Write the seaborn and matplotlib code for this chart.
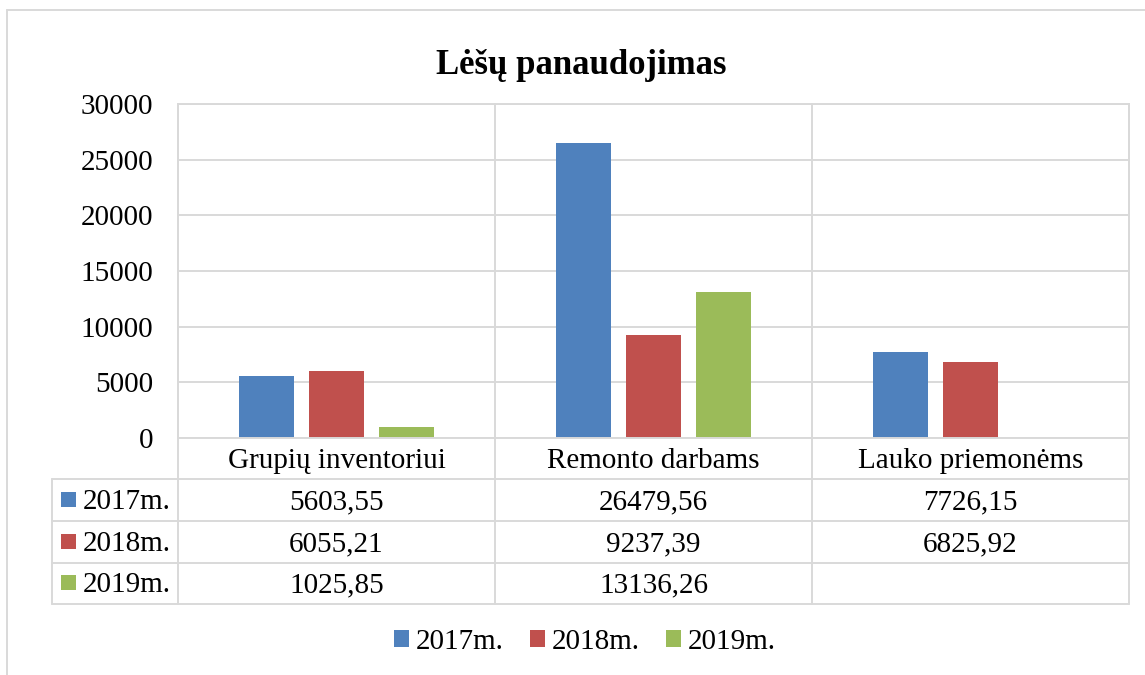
# Lėšų panaudojimas - grouped bars with an Excel style data table under the axes.

import seaborn as sns
import pandas as pd
import matplotlib.pyplot as plt
from matplotlib.lines import Line2D
from matplotlib.patches import Patch, Rectangle
from matplotlib.transforms import blended_transform_factory
import numpy as np

sns.set_theme(style="white")
plt.rcParams['font.family'] = ['Liberation Serif', 'DejaVu Serif']
plt.rcParams['text.color'] = 'black'
plt.rcParams['ytick.color'] = 'black'

# Data.
categories = ["Grupių inventoriui", "Remonto darbams", "Lauko priemonėms"]
years = ["2017m.", "2018m.", "2019m."]
values_2017 = [5603.55, 26479.56, 7726.15]
values_2018 = [6055.21, 9237.39, 6825.92]
values_2019 = [1025.85, 13136.26, np.nan]
y_ticks = [0, 5000, 10000, 15000, 20000, 25000, 30000]
title = "Lėšų panaudojimas"

colors = {"2017m.": "#4F81BD", "2018m.": "#C0504D", "2019m.": "#9BBB59"}
grid_color = "#d9d9d9"
fs = 21

W, H = 1145, 675
fig = plt.figure(figsize=(W / 100, H / 100), dpi=100)


def fy(px):
    # pixel row (from top) -> figure fraction
    return 1 - px / H


ax_left, ax_right, ax_top, ax_bottom = 178, 1129, 104, 438
ax = fig.add_axes([ax_left / W, fy(ax_bottom), (ax_right - ax_left) / W, (ax_bottom - ax_top) / H])

df = pd.DataFrame({
    "category": categories * 3,
    "year": [years[0]] * 3 + [years[1]] * 3 + [years[2]] * 3,
    "value": values_2017 + values_2018 + values_2019,
})

sns.barplot(data=df, x="category", y="value", hue="year", order=categories, hue_order=years,
            palette=colors, saturation=1, width=0.662, gap=0.21, ax=ax, legend=False, linewidth=0)

ax.set_xlim(-0.5, len(categories) - 0.5)
ax.set_ylim(0, 30000)
ax.set_yticks(y_ticks)
ax.set_yticklabels([str(t) for t in y_ticks], fontsize=fs, color="black")
ax.set_xticks([])
ax.set_xlabel("")
ax.set_ylabel("")
ax.tick_params(axis="y", length=0, pad=18)
ax.grid(axis="y", color=grid_color, linewidth=1.4)
ax.set_axisbelow(True)
for s in ax.spines.values():
    s.set_color(grid_color)
    s.set_linewidth(1.4)

# Data table below the axes: x in data units, y in figure fraction.
trans = blended_transform_factory(ax.transData, fig.transFigure)
cat_w = (ax_right - ax_left) / len(categories)
table_left = -0.5 - (ax_left - 52) / cat_w
row_lines = [479, 521, 563, 604]
line_kw = dict(color=grid_color, linewidth=1.4, transform=trans, clip_on=False)

for xb in np.arange(-0.5, len(categories), 1.0):
    fig.add_artist(Line2D([xb, xb], [fy(ax_top), fy(row_lines[-1])], **line_kw))
fig.add_artist(Line2D([table_left, table_left], [fy(row_lines[0]), fy(row_lines[-1])], **line_kw))
for r in row_lines:
    fig.add_artist(Line2D([table_left, len(categories) - 0.5], [fy(r), fy(r)], **line_kw))

for i, c in enumerate(categories):
    fig.text(i, fy(468), c, transform=trans, ha="center", va="baseline", fontsize=fs)

series = [values_2017, values_2018, values_2019]
baselines = [509, 551, 592]
for yr, vals, base in zip(years, series, baselines):
    for i, v in enumerate(vals):
        if not np.isnan(v):
            fig.text(i, fy(base), f"{v:.2f}".replace(".", ","), transform=trans,
                     ha="center", va="baseline", fontsize=fs)
    # legend key + row label
    sq_x = -0.5 - (ax_left - 61) / cat_w
    fig.add_artist(Rectangle((sq_x, fy(base - 2)), 15 / cat_w, 15 / H, transform=trans,
                             facecolor=colors[yr], edgecolor="none", clip_on=False))
    fig.text(-0.5 - (ax_left - 83) / cat_w, fy(base), yr, transform=trans,
             ha="left", va="baseline", fontsize=fs)

# Legend at the bottom.
handles = [Patch(facecolor=colors[y], edgecolor="none", label=y) for y in years]
fig.legend(handles=handles, loc="center", bbox_to_anchor=(585 / W, fy(642)), ncol=3, frameon=False,
           fontsize=fs, handlelength=0.5, handleheight=0.5, handletextpad=0.25, columnspacing=0.9,
           labelcolor="black")

# Title.
fig.text(581.5 / W, fy(74), title, ha="center", va="baseline", fontsize=25, fontweight="bold")

# Chart area border (only top and left visible).
fig.add_artist(Line2D([7 / W, 1], [fy(10), fy(10)], color=grid_color, linewidth=1.4))
fig.add_artist(Line2D([7 / W, 7 / W], [fy(10), 0], color=grid_color, linewidth=1.4))

plt.savefig("out.png", dpi=100)
